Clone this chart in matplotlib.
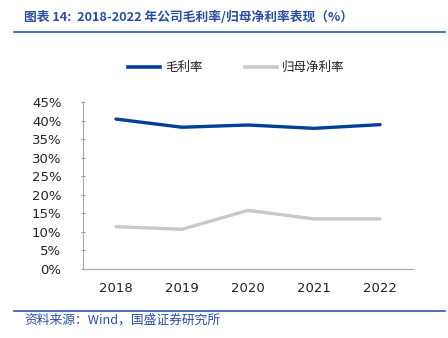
import matplotlib.pyplot as plt
from matplotlib.lines import Line2D

plt.rcParams['font.family'] = ['Noto Sans CJK SC', 'DejaVu Sans']

years = ['2018', '2019', '2020', '2021', '2022']
gross_margin = [40.4, 38.2, 38.8, 37.9, 38.9]
net_margin = [11.4, 10.7, 15.8, 13.5, 13.5]
yticks = [0, 5, 10, 15, 20, 25, 30, 35, 40, 45]

blue = '#003f98'
grey = '#c9c9c9'
title_blue = '#2a4f9a'

W, H = 448, 338
fig = plt.figure(figsize=(W / 100, H / 100), dpi=100)

ax = fig.add_axes([83 / W, 1 - 269 / H, (413 - 83) / W, (269 - 102) / H])
x = range(len(years))
ax.plot(x, gross_margin, color=blue, lw=2.4, solid_capstyle='round')
ax.plot(x, net_margin, color=grey, lw=2.4, solid_capstyle='round')

ax.set_xlim(-0.5, len(years) - 0.5)
ax.set_ylim(0, 45)
ax.set_yticks(yticks)
ax.set_yticklabels([f'{v}%' for v in yticks], fontsize=9.5, color='#222222',
                   family='DejaVu Sans')
ax.set_xticks(list(x))
ax.set_xticklabels(years, fontsize=9.5, color='#222222', family='DejaVu Sans')
ax.tick_params(axis='y', length=3, color='#999999', direction='inout', pad=14)
ax.tick_params(axis='x', length=0, pad=9)
for s in ['top', 'right']:
    ax.spines[s].set_visible(False)
for s in ['left', 'bottom']:
    ax.spines[s].set_color('#aaaaaa')
    ax.spines[s].set_linewidth(0.8)

# legend row
fig.add_artist(Line2D([128 / W, 160 / W], [1 - 67 / H] * 2, color=blue, lw=2.6))
fig.text(165 / W, 1 - 67 / H, '毛利率', fontsize=9, va='center', color='#222222')
fig.add_artist(Line2D([245 / W, 277 / W], [1 - 67 / H] * 2, color=grey, lw=2.6))
fig.text(282 / W, 1 - 67 / H, '归母净利率', fontsize=9, va='center', color='#222222')

# header and footer
fig.text(24 / W, 1 - 17 / H, '图表 14:  2018-2022 年公司毛利率/归母净利率表现（%）',
         fontsize=9.2, va='center', color=title_blue, style='italic', weight='bold')
fig.add_artist(Line2D([14 / W, 445 / W], [1 - 32 / H] * 2, color='#2a5aa8', lw=1.2))
fig.add_artist(Line2D([14 / W, 445 / W], [1 - 311 / H] * 2, color='#2a5aa8', lw=1.2))
fig.text(24 / W, 1 - 320 / H, '资料来源：Wind，国盛证券研究所',
         fontsize=9.2, va='center', color=title_blue, style='italic')

fig.savefig('out.png', dpi=100)
